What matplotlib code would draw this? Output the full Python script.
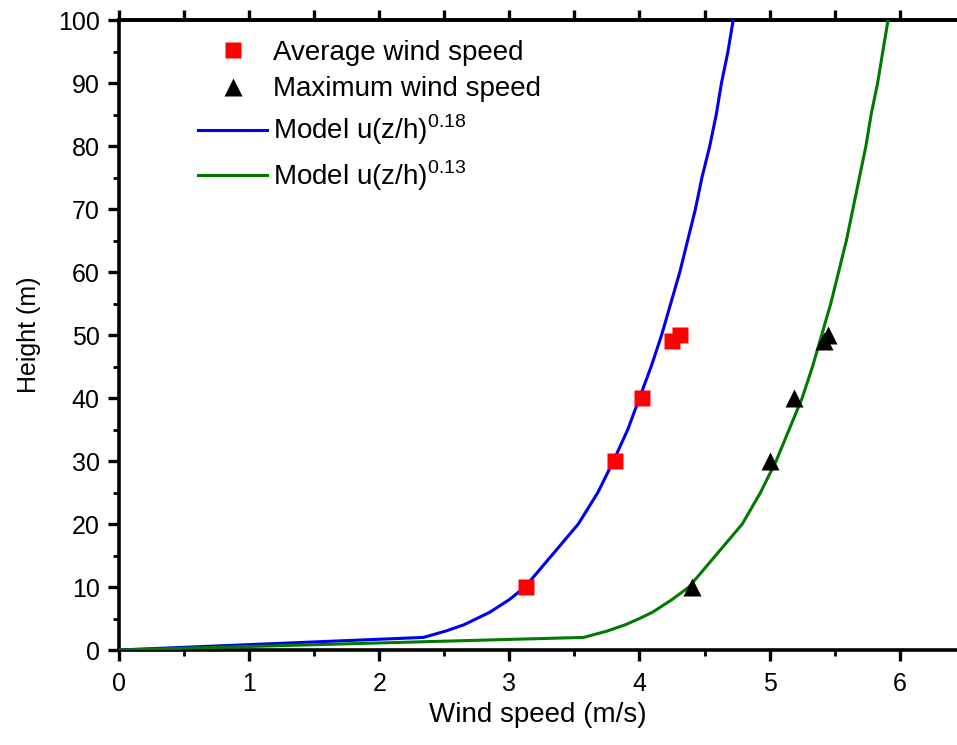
import matplotlib
matplotlib.use("Agg")
import matplotlib.pyplot as plt
from matplotlib.ticker import MultipleLocator

plt.rcParams['font.family'] = ['Liberation Sans', 'DejaVu Sans']
plt.rcParams['mathtext.fontset'] = 'custom'
plt.rcParams['mathtext.rm'] = 'Liberation Sans'

avg_speed = [3.13, 3.81, 4.02, 4.25, 4.31]
avg_height = [10, 30, 40, 49, 50]
max_speed = [4.40, 5.00, 5.19, 5.42, 5.45]
max_height = [10, 30, 40, 49, 50]

# model curves
model_height = [0, 2, 3, 4, 5, 6, 8, 10, 20, 25, 30, 35, 40, 45, 50,
                55, 60, 65, 70, 75, 80, 85, 90, 95, 100]
model18_speed = [0.0, 2.34, 2.51, 2.65, 2.75, 2.85, 3.00, 3.12, 3.53, 3.68,
                 3.80, 3.91, 4.00, 4.09, 4.17, 4.24, 4.31, 4.37, 4.43, 4.48,
                 4.54, 4.59, 4.63, 4.68, 4.72]
model13_speed = [0.0, 3.57, 3.75, 3.89, 4.00, 4.10, 4.25, 4.38, 4.79, 4.93,
                 5.05, 5.15, 5.25, 5.33, 5.40, 5.47, 5.53, 5.59, 5.64, 5.69,
                 5.74, 5.78, 5.83, 5.87, 5.91]

fig = plt.figure(figsize=(9.57, 7.45), dpi=100)
ax = fig.add_axes([0.1243, 0.1275, 0.8757, 0.8456])

ax.plot(avg_speed, avg_height, 's', color='#ff0000', ms=11, mec='none',
        label='Average wind speed', zorder=4)
ax.plot(max_speed, max_height, '^', color='black', ms=13, mec='none',
        label='Maximum wind speed', zorder=4)
ax.plot(model18_speed, model_height, '-', color='#0000ee', lw=2.2,
        label=r'Model u(z/h)$^{\mathregular{0.18}}$', zorder=3)
ax.plot(model13_speed, model_height, '-', color='#007a00', lw=2.2,
        label=r'Model u(z/h)$^{\mathregular{0.13}}$', zorder=3)

ax.set_xlim(0, 6.44)
ax.set_ylim(0, 100)

ax.xaxis.set_major_locator(MultipleLocator(1))
ax.xaxis.set_minor_locator(MultipleLocator(0.5))
ax.yaxis.set_major_locator(MultipleLocator(10))
ax.yaxis.set_minor_locator(MultipleLocator(5))

for s in ['left', 'bottom', 'top']:
    ax.spines[s].set_linewidth(2.6)
ax.spines['right'].set_visible(False)

ax.tick_params(which='major', direction='out', length=8, width=2.4, labelsize=18, pad=6)
ax.tick_params(which='minor', direction='out', length=4.5, width=2.0)
ax.tick_params(axis='x', which='major', labelsize=18, pad=8)

# ticks on top spine, all the same length
top = ax.secondary_xaxis('top')
top.xaxis.set_major_locator(MultipleLocator(0.5))
top.tick_params(direction='out', length=7, width=2.4, labeltop=False)
top.spines['top'].set_linewidth(2.6)

ax.set_xlabel('Wind speed (m/s)', fontsize=20, labelpad=4)
ax.set_ylabel('Height (m)', fontsize=18, labelpad=12)

ax.legend(loc='upper left', bbox_to_anchor=(0.075, 0.995), frameon=False,
          fontsize=20, handlelength=2.45, handletextpad=0.22, labelspacing=0.38,
          numpoints=1, borderaxespad=0.2)

fig.savefig('out.png', dpi=100)
